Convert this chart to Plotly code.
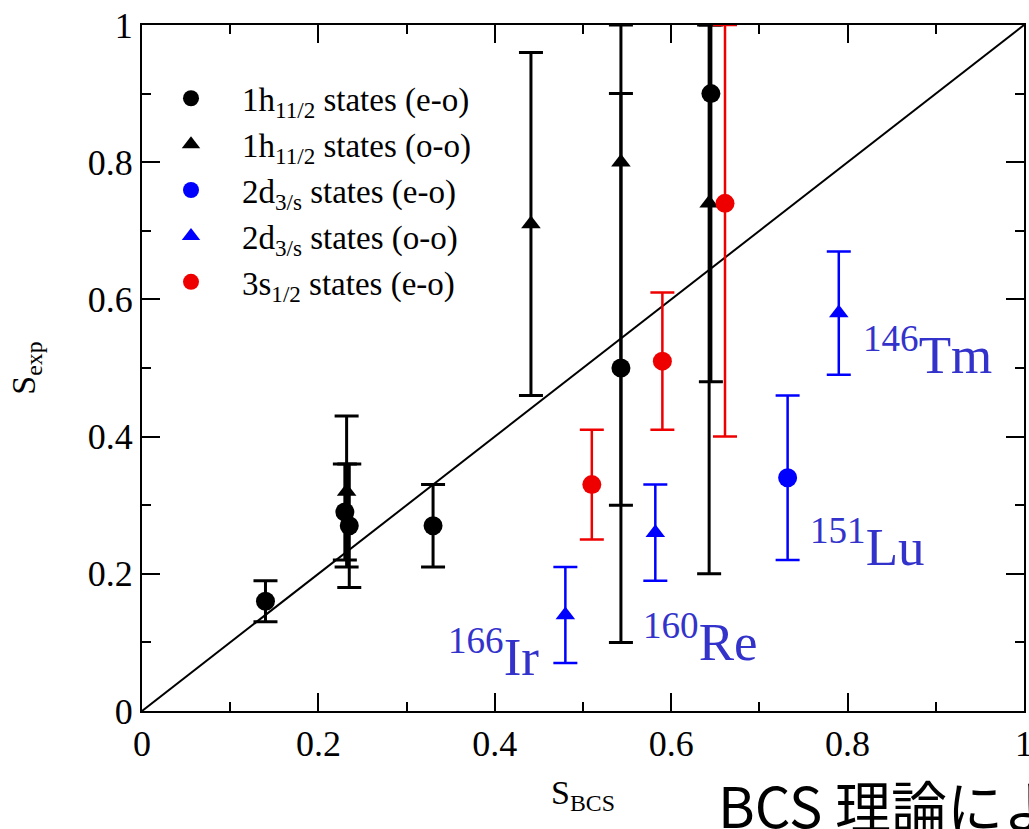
import plotly.graph_objects as go

# ---- data ----
h_eo_x = [0.14, 0.23, 0.235, 0.33, 0.543, 0.645]
h_eo_y = [0.16, 0.29, 0.27, 0.27, 0.50, 0.90]
h_eo_hi = [0.19, 0.36, 0.36, 0.33, 1.00, 1.00]
h_eo_lo = [0.13, 0.22, 0.18, 0.21, 0.10, 0.48]

h_oo_x = [0.232, 0.441, 0.543, 0.643]
h_oo_y = [0.32, 0.71, 0.80, 0.74]
h_oo_hi = [0.43, 0.96, 0.90, 1.00]
h_oo_lo = [0.21, 0.46, 0.30, 0.20]

d_eo_x = [0.732]
d_eo_y = [0.34]
d_eo_hi = [0.46]
d_eo_lo = [0.22]

d_oo_x = [0.48, 0.582, 0.79]
d_oo_y = [0.14, 0.26, 0.58]
d_oo_hi = [0.21, 0.33, 0.67]
d_oo_lo = [0.07, 0.19, 0.49]

s_eo_x = [0.51, 0.59, 0.661]
s_eo_y = [0.33, 0.51, 0.74]
s_eo_hi = [0.41, 0.61, 1.00]
s_eo_lo = [0.25, 0.41, 0.40]

nuclei = ["<sup>146</sup>Tm", "<sup>151</sup>Lu", "<sup>166</sup>Ir", "<sup>160</sup>Re"]
nuclei_x = [0.818, 0.757, 0.347, 0.568]
nuclei_y = [0.525, 0.245, 0.085, 0.106]

major_ticks = [0, 0.2, 0.4, 0.6, 0.8, 1]
major_labels = ["0", "0.2", "0.4", "0.6", "0.8", "1"]
minor_ticks = [0.1, 0.3, 0.5, 0.7, 0.9]

diag = [0, 1]

BLUE = "#0000ff"
RED = "#ee0000"
LBLUE = "#3333cc"
SERIF = "Liberation Serif"


def series(x, y, hi, lo, name, color, symbol, size, width, ew):
    return go.Scatter(
        x=x, y=y, mode="markers", name=name,
        marker=dict(symbol=symbol, size=size, color=color, line=dict(width=0)),
        error_y=dict(type="data", symmetric=False,
                     array=[h - v for h, v in zip(hi, y)],
                     arrayminus=[v - l for v, l in zip(y, lo)],
                     color=color, thickness=ew, width=width),
        cliponaxis=False,
    )


fig = go.Figure()
fig.add_trace(go.Scatter(x=diag, y=diag, mode="lines", line=dict(color="black", width=2),
                         showlegend=False, hoverinfo="skip"))
fig.add_trace(series(h_eo_x, h_eo_y, h_eo_hi, h_eo_lo,
                     "1h<sub>11/2</sub> states (e-o)", "black", "circle", 19, 12, 3))
fig.add_trace(series(h_oo_x, h_oo_y, h_oo_hi, h_oo_lo,
                     "1h<sub>11/2</sub> states (o-o)", "black", "triangle-up", 17, 12, 3))
fig.add_trace(series(d_eo_x, d_eo_y, d_eo_hi, d_eo_lo,
                     "2d<sub>3/s</sub> states (e-o)", BLUE, "circle", 19, 12, 2.5))
fig.add_trace(series(d_oo_x, d_oo_y, d_oo_hi, d_oo_lo,
                     "2d<sub>3/s</sub> states (o-o)", BLUE, "triangle-up", 17, 12, 2.5))
fig.add_trace(series(s_eo_x, s_eo_y, s_eo_hi, s_eo_lo,
                     "3s<sub>1/2</sub> states (e-o)", RED, "circle", 19, 12, 2.5))

for t, x, y in zip(nuclei, nuclei_x, nuclei_y):
    fig.add_annotation(x=x, y=y, text=t, showarrow=False, xanchor="left", yanchor="middle",
                       xshift=-2, font=dict(family=SERIF, size=53, color=LBLUE))

fig.add_annotation(xref="paper", yref="paper", x=(716 - 142) / 882, y=-(803 - 711) / 686,
                   text="BCS 理論によ", showarrow=False, xanchor="left", yanchor="middle",
                   font=dict(family="Noto Sans CJK JP", size=56, color="black"))

axis_common = dict(
    range=[0, 1], tickmode="array", tickvals=major_ticks, ticktext=major_labels,
    ticks="inside", ticklen=18, tickwidth=1.5, automargin=False, ticklabeloverflow="allow",
    tickcolor="black", showline=True, linecolor="black", linewidth=2, mirror="allticks",
    showgrid=False, zeroline=False,
    tickfont=dict(family=SERIF, size=36, color="black"),
    minor=dict(tickmode="array", tickvals=minor_ticks, ticks="inside", ticklen=9,
               tickwidth=1.5, tickcolor="black", showgrid=False),
)

fig.update_xaxes(**axis_common,
                 title=dict(text="S<sub>BCS</sub>", standoff=17,
                            font=dict(family=SERIF, size=34, color="black")))
fig.update_yaxes(**axis_common,
                 title=dict(text="S<sub>exp</sub>", standoff=42,
                            font=dict(family=SERIF, size=34, color="black")))

fig.update_layout(
    width=1029, height=829,
    margin=dict(l=142, r=5, t=25, b=118, autoexpand=False),
    plot_bgcolor="white", paper_bgcolor="white",
    legend=dict(x=(140 - 142) / 882, y=0.934, xanchor="left", yanchor="top",
                bgcolor="rgba(0,0,0,0)", font=dict(family=SERIF, size=33, color="black"),
                tracegroupgap=0, itemwidth=92),
)

fig.write_html("out.html", config={"displayModeBar": False},
               post_script="document.body.style.margin='0';")
